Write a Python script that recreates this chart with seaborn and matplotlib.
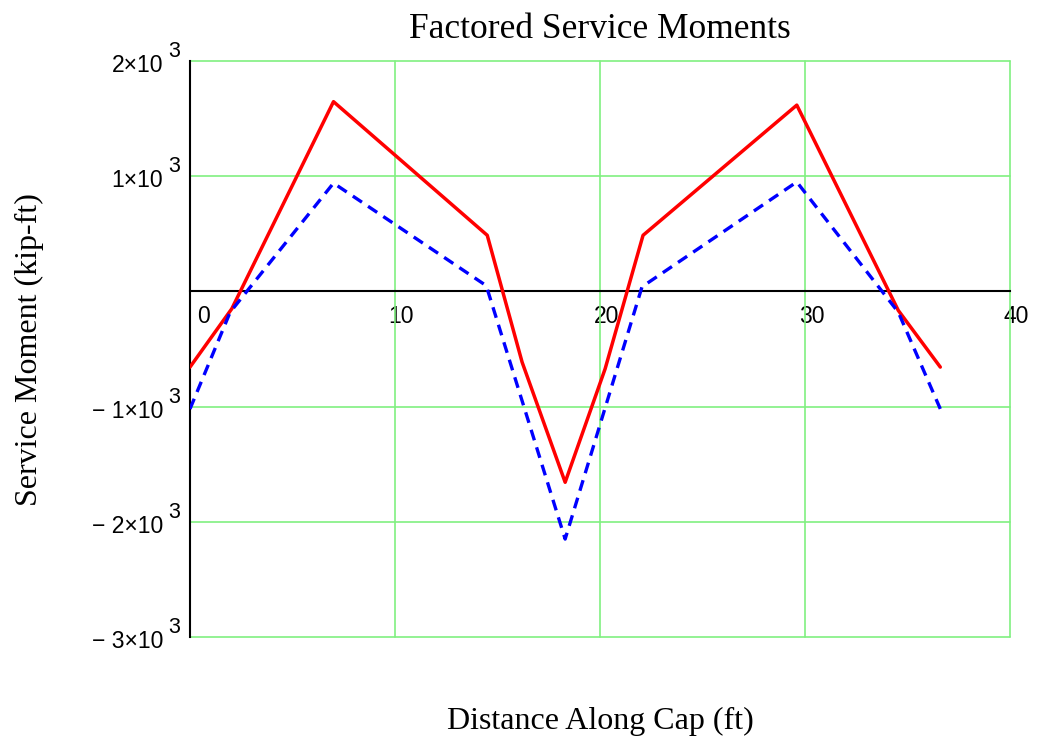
import matplotlib
matplotlib.use("Agg")
import matplotlib.pyplot as plt
import matplotlib.transforms as mtransforms
import numpy as np
import pandas as pd
import seaborn as sns

# Distance along the cap (ft) and factored service moments (kip-ft)
dist_red = [0.0, 2.04, 7.0, 14.5, 16.2, 18.3, 20.25, 22.1, 29.6, 34.55, 36.6]
moment_red = [-657, -150, 1647, 487, -614, -1657, -672, 487, 1617, -165, -657]

dist_blue = [0.0, 1.96, 7.0, 14.45, 18.3, 22.05, 29.6, 34.55, 36.6]
moment_blue = [-1020, -180, 940, 50, -2150, 40, 950, -180, -1020]

x_ticks = [0, 10, 20, 30, 40]
y_ticks = [-3000, -2000, -1000, 0, 1000, 2000]
y_tick_mantissa = ["\u2212 3\u00d710", "\u2212 2\u00d710", "\u2212 1\u00d710", "", "1\u00d710", "2\u00d710"]
y_tick_exponent = ["3", "3", "3", "", "3", "3"]

sns.set_theme(style="white")
plt.rcParams["font.family"] = ["Liberation Sans", "DejaVu Sans"]
plt.rcParams["text.color"] = "black"
plt.rcParams["xtick.color"] = "black"
plt.rcParams["ytick.color"] = "black"
plt.rcParams["xtick.labelcolor"] = "black"
plt.rcParams["ytick.labelcolor"] = "black"

fig = plt.figure(figsize=(10.37, 7.45), dpi=100)
ax = fig.add_axes([190 / 1037, 1 - 637 / 745, 820 / 1037, 576 / 745])

df_red = pd.DataFrame({"x": dist_red, "y": moment_red})
df_blue = pd.DataFrame({"x": dist_blue, "y": moment_blue})

sns.lineplot(data=df_red, x="x", y="y", ax=ax, color="#ff0000", linewidth=2.5,
             sort=False, estimator=None, zorder=4)
sns.lineplot(data=df_blue, x="x", y="y", ax=ax, color="#0000ff", linewidth=2.4,
             sort=False, estimator=None, zorder=4)
ax.lines[-1].set_dashes([3.3, 2.2])

ax.set_xlim(0, 40)
ax.set_ylim(-3000, 2000)

# green grid, including the outer frame lines
grid_color = "#80f080"
for xv in [10, 20, 30, 40]:
    ax.axvline(xv, color=grid_color, linewidth=1.2, zorder=1, clip_on=False)
for yv in [2000, 1000, -1000, -2000, -3000]:
    ax.axhline(yv, color=grid_color, linewidth=1.2, zorder=1, clip_on=False)

for s in ["top", "right"]:
    ax.spines[s].set_visible(False)
ax.spines["bottom"].set_position(("data", 0))
for s in ["bottom", "left"]:
    ax.spines[s].set_color("black")
    ax.spines[s].set_linewidth(1.5)
    ax.spines[s].set_zorder(3)

ax.set_xticks(x_ticks)
ax.set_xticklabels([str(v) for v in x_ticks], fontsize=16.5, color="black")
ax.set_yticks(y_ticks)
ax.set_yticklabels([""] * len(y_ticks))
ax.tick_params(axis="x", direction="inout", length=8.6, width=1.5, color="black", pad=4)
ax.tick_params(axis="y", direction="out", length=3.8, width=1.5, color="black", pad=2)
ax.set_xlabel("")
ax.set_ylabel("")

# nudge x tick labels to the right of their ticks
for lbl, v in zip(ax.get_xticklabels(), x_ticks):
    dx = 13 if v == 0 else 6.5
    lbl.set_transform(lbl.get_transform() + mtransforms.ScaledTranslation(dx / 100, -2 / 100, fig.dpi_scale_trans))

# y tick labels in "n×10^3" form with a large exponent
ytrans = ax.get_yaxis_transform()
for yv, mant, expo in zip(y_ticks, y_tick_mantissa, y_tick_exponent):
    if not mant:
        continue
    off_m = mtransforms.ScaledTranslation(-27 / 100, -11 / 100, fig.dpi_scale_trans)
    ax.text(0, yv, mant, transform=ytrans + off_m, ha="right", va="baseline",
            fontsize=16.5, color="black", clip_on=False)
    off_e = mtransforms.ScaledTranslation(-10 / 100, 4 / 100, fig.dpi_scale_trans)
    ax.text(0, yv, expo, transform=ytrans + off_e, ha="right", va="baseline",
            fontsize=15.5, color="black", clip_on=False)

serif = ["Liberation Serif", "DejaVu Serif"]
fig.text(600 / 1037, 1 - 37.5 / 745, "Factored Service Moments", family=serif, fontsize=25.5,
         ha="center", va="baseline", color="black")
fig.text(600 / 1037, 1 - 729 / 745, "Distance Along Cap (ft)", family=serif, fontsize=23,
         ha="center", va="baseline", color="black")
fig.text(29 / 1037, 1 - 350 / 745, "Service Moment (kip-ft)", family=serif, fontsize=23,
         ha="center", va="center", rotation=90, color="black")

fig.savefig("out.png", dpi=100, facecolor="white")
